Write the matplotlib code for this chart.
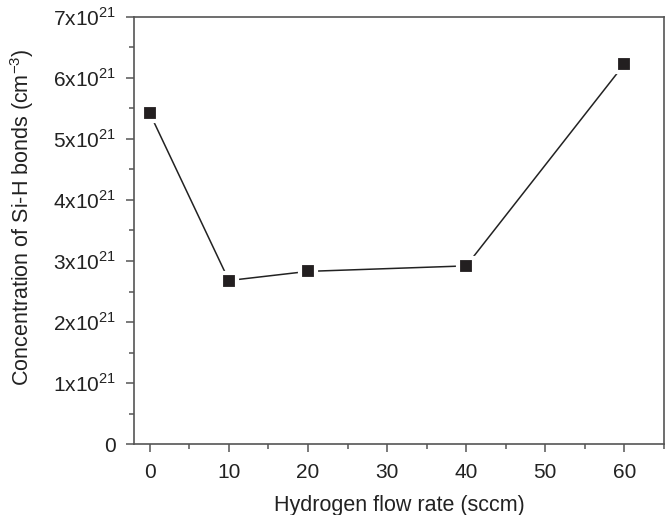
import matplotlib
matplotlib.use("Agg")
import matplotlib.pyplot as plt
from matplotlib.ticker import FixedLocator, MultipleLocator

flow = [0, 10, 20, 40, 60]
conc = [5.42, 2.68, 2.83, 2.92, 6.23]  # x 1e21 cm^-3
yticks = [0, 1, 2, 3, 4, 5, 6, 7]
ylabels = ["0"] + [r"%dx10$^{21}$" % v for v in yticks[1:]]
xticks = [0, 10, 20, 30, 40, 50, 60]

plt.rcParams['font.family'] = ['Liberation Sans', 'DejaVu Sans']
plt.rcParams['mathtext.fontset'] = 'custom'
plt.rcParams['mathtext.rm'] = 'Liberation Sans'

fig = plt.figure(figsize=(6.7, 5.15), dpi=100)
ax = fig.add_axes([134/670, 1-444/515, (664-134)/670, (444-17)/515])

ax.plot(flow, conc, color='#222222', lw=1.1, marker='s', ms=12,
        mfc='#231f20', mec='white', mew=3, zorder=3)

ax.set_xlim(-2, 65)
ax.set_ylim(0, 7)
ax.xaxis.set_major_locator(FixedLocator(xticks))
ax.xaxis.set_minor_locator(MultipleLocator(5))
ax.yaxis.set_major_locator(FixedLocator(yticks))
ax.yaxis.set_minor_locator(MultipleLocator(0.5))
ax.set_yticklabels(ylabels)

for s in ax.spines.values():
    s.set_color('#555555')
    s.set_linewidth(1.2)
ax.tick_params(which='both', direction='out', color='#555555', width=1.1,
               top=False, right=False, labelsize=15, labelcolor='#222222')
ax.tick_params(which='major', length=6)
ax.tick_params(which='minor', length=3.5)
ax.tick_params(axis='y', which='major', pad=7)
ax.tick_params(axis='x', which='major', pad=8)

ax.set_xlabel('Hydrogen flow rate (sccm)', fontsize=15.5, color='#222222', labelpad=9)
ax.set_ylabel(r'Concentration of Si-H bonds (cm$^{-3}$)', fontsize=15.5, color='#222222')
ax.yaxis.set_label_coords((36-134)/530, (444-217)/427)

fig.savefig('out.png', dpi=100)
